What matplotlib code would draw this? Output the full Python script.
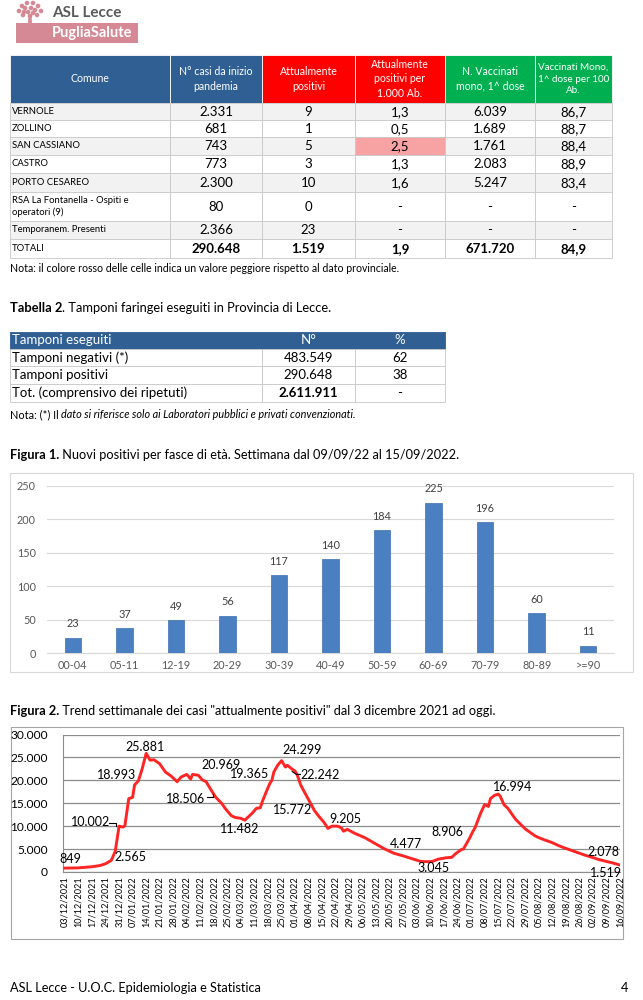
import matplotlib
matplotlib.use('Agg')
import matplotlib.pyplot as plt
import matplotlib.dates as mdates
from matplotlib.patches import Rectangle, Circle, Polygon
from matplotlib.ticker import FuncFormatter
import datetime as dt

FONT = ['Lato', 'DejaVu Sans']
plt.rcParams['font.family'] = FONT

# ---------------- DATA ----------------
t1_header = ["Comune", "N° casi da inizio\npandemia", "Attualmente\npositivi",
             "Attualmente\npositivi per\n1.000 Ab.", "N. Vaccinati\nmono, 1^ dose",
             "Vaccinati Mono,\n1^ dose per 100\nAb."]
t1_comuni = ["VERNOLE", "ZOLLINO", "SAN CASSIANO", "CASTRO", "PORTO CESAREO",
             "RSA La Fontanella - Ospiti e\noperatori (9)", "Temporanem. Presenti", "TOTALI"]
t1_casi = ["2.331", "681", "743", "773", "2.300", "80", "2.366", "290.648"]
t1_attuali = ["9", "1", "5", "3", "10", "0", "23", "1.519"]
t1_per1000 = ["1,3", "0,5", "2,5", "1,3", "1,6", "-", "-", "1,9"]
t1_vacc = ["6.039", "1.689", "1.761", "2.083", "5.247", "-", "-", "671.720"]
t1_vacc100 = ["86,7", "88,7", "88,4", "88,9", "83,4", "-", "-", "84,9"]

t2_header = ["Tamponi eseguiti", "N°", "%"]
t2_labels = ["Tamponi negativi (*)", "Tamponi positivi", "Tot. (comprensivo dei ripetuti)"]
t2_n = ["483.549", "290.648", "2.611.911"]
t2_pct = ["62", "38", "-"]

age_groups = ["00-04", "05-11", "12-19", "20-29", "30-39", "40-49", "50-59",
              "60-69", "70-79", "80-89", ">=90"]
new_positives = [23, 37, 49, 56, 117, 140, 184, 225, 196, 60, 11]

trend_dates = [
    "2021-12-03", "2021-12-10", "2021-12-17", "2021-12-21", "2021-12-24", "2021-12-26",
    "2021-12-27", "2021-12-29", "2021-12-31", "2022-01-02", "2022-01-03", "2022-01-05",
    "2022-01-07", "2022-01-08", "2022-01-10", "2022-01-12", "2022-01-14", "2022-01-16",
    "2022-01-18", "2022-01-21", "2022-01-24", "2022-01-27", "2022-01-30", "2022-02-01",
    "2022-02-04", "2022-02-06", "2022-02-07", "2022-02-10", "2022-02-12", "2022-02-14",
    "2022-02-17", "2022-02-19", "2022-02-22", "2022-02-24", "2022-02-27", "2022-03-01",
    "2022-03-04", "2022-03-06", "2022-03-08", "2022-03-10", "2022-03-12", "2022-03-14",
    "2022-03-15", "2022-03-17", "2022-03-19", "2022-03-20", "2022-03-21", "2022-03-23",
    "2022-03-25", "2022-03-27", "2022-03-28", "2022-03-30", "2022-04-01", "2022-04-02",
    "2022-04-04", "2022-04-06", "2022-04-08", "2022-04-11", "2022-04-13", "2022-04-16",
    "2022-04-18", "2022-04-20", "2022-04-23", "2022-04-25", "2022-04-26", "2022-04-28",
    "2022-05-02", "2022-05-07", "2022-05-12", "2022-05-17", "2022-05-22", "2022-05-27",
    "2022-05-30", "2022-06-05", "2022-06-09", "2022-06-11", "2022-06-14", "2022-06-18",
    "2022-06-21", "2022-06-23", "2022-06-26", "2022-06-27", "2022-06-30", "2022-07-02",
    "2022-07-03", "2022-07-06", "2022-07-08", "2022-07-10", "2022-07-11", "2022-07-13",
    "2022-07-15", "2022-07-16", "2022-07-18", "2022-07-20", "2022-07-24", "2022-07-29",
    "2022-08-03", "2022-08-05", "2022-08-08", "2022-08-12", "2022-08-15", "2022-08-18",
    "2022-08-22", "2022-08-26", "2022-08-29", "2022-09-02", "2022-09-05", "2022-09-09",
    "2022-09-12", "2022-09-16"]
trend_values = [
    849, 900, 1150, 1400, 1800, 2300,
    2565, 4500, 10002, 9800, 10100, 16000,
    16300, 18993, 19900, 22600, 25881, 24400,
    24500, 23600, 21800, 20900, 19700, 20700,
    21300, 20300, 21300, 21100, 20100, 19700,
    17600, 16300, 15000, 13800, 12300, 11900,
    11700, 11300, 12100, 12900, 13900, 14000,
    15300, 17400, 19365, 20000, 21800, 23300,
    24299, 22900, 23300, 22600, 22000, 21300,
    18900, 17300, 15772, 13400, 12300, 10800,
    9500, 10000, 10000, 9600, 8900, 9300,
    8400, 7500, 6300, 5100, 4100, 3500,
    3100, 2300, 2250, 2300, 2800, 3100,
    3200, 4000, 4900, 5000, 7200, 8906,
    9600, 12900, 14700, 14300, 16000, 16700,
    16994, 16600, 14700, 13900, 11500, 9400,
    7900, 7500, 7000, 6400, 5800, 5300,
    4700, 4100, 3650, 3150, 2720, 2300,
    2000, 1519]
trend_tick_start = "2021-12-03"
trend_tick_end = "2022-09-16"
trend_label_texts = ["849", "2.565", "10.002", "18.993", "25.881", "18.506", "20.969",
                     "19.365", "24.299", "22.242", "15.772", "11.482", "9.205", "4.477",
                     "3.045", "8.906", "16.994", "2.078", "1.519"]

# ---------------- LAYOUT ----------------
W, H = 643, 1000
fig = plt.figure(figsize=(W / 100, H / 100), dpi=100)
fig.patch.set_facecolor('white')
bg = fig.add_axes([0, 0, 1, 1])
bg.set_xlim(0, W)
bg.set_ylim(H, 0)
bg.axis('off')
bg.set_zorder(-1)


def px_axes(l, t, r, b):
    return fig.add_axes([l / W, 1 - b / H, (r - l) / W, (b - t) / H])


renderer = fig.canvas.get_renderer()


def mixed(x, y, parts, size, color='black'):
    for txt, weight, style in parts:
        t = bg.text(x, y, txt, fontsize=size, fontweight=weight, fontstyle=style,
                    color=color, va='center', ha='left')
        ext = t.get_window_extent(renderer=renderer)
        x += ext.width


# ---------- logo ----------
PINK = '#d48995'
crown = [(22, 6), (27, 3), (33, 3), (38, 6), (41, 11), (37, 15), (30, 16), (23, 15), (19, 11),
         (25, 8), (31, 8), (35, 10), (28, 12), (33, 13), (24, 12)]
for cx, cy in crown:
    bg.add_patch(Circle((cx, cy), 2.3, color=PINK, lw=0))
bg.add_patch(Polygon([(28.5, 14), (31.5, 14), (32, 24), (28, 24)], closed=True, color=PINK, lw=0))
bg.add_patch(Rectangle((16, 23), 122, 20, color=PINK, lw=0))
bg.text(52, 13, "ASL Lecce", fontsize=11, fontweight='bold', color='#5a5a5a', va='center')
bg.text(52, 33.5, "PugliaSalute", fontsize=10.5, fontweight='bold', color='white', va='center')

# ---------- table 1 ----------
BLUE = '#2f5f93'
RED = '#ff0000'
GREEN = '#00b050'
GRID = '#c8c8c8'
x_edges = [10, 170, 262, 355, 445, 535, 612]
head_top, head_bot = 55, 103
row_edges = [103, 120, 137, 155, 173, 192, 221, 239, 258]
head_colors = [BLUE, BLUE, RED, RED, GREEN, GREEN]
head_sizes = [7.6, 7.6, 7.6, 7.6, 7.6, 7.1]
for i in range(6):
    bg.add_patch(Rectangle((x_edges[i], head_top), x_edges[i + 1] - x_edges[i],
                           head_bot - head_top, facecolor=head_colors[i],
                           edgecolor='white', lw=0.6))
    bg.text((x_edges[i] + x_edges[i + 1]) / 2, (head_top + head_bot) / 2, t1_header[i],
            fontsize=head_sizes[i], color='white', ha='center', va='center', linespacing=1.35)
cols = [t1_casi, t1_attuali, t1_per1000, t1_vacc, t1_vacc100]
for r in range(len(t1_comuni)):
    y0, y1 = row_edges[r], row_edges[r + 1]
    fc = '#f2f2f2' if r % 2 == 0 else 'white'
    for i in range(6):
        c = fc
        if r == 2 and i == 3:
            c = '#f7a3a3'
        bg.add_patch(Rectangle((x_edges[i], y0), x_edges[i + 1] - x_edges[i], y1 - y0,
                               facecolor=c, edgecolor=GRID, lw=0.6))
    ym = (y0 + y1) / 2
    bg.text(x_edges[0] + 2, ym, t1_comuni[r], fontsize=6.8, ha='left', va='center',
            linespacing=1.45)
    bold = 'bold' if r == len(t1_comuni) - 1 else 'normal'
    for i, col in enumerate(cols):
        bg.text((x_edges[i + 1] + x_edges[i + 2]) / 2, ym + 0.5, col[r], fontsize=9.5,
                ha='center', va='center', fontweight=bold)
bg.text(10, 268, "Nota: il colore rosso delle celle indica un valore peggiore rispetto al dato provinciale.",
        fontsize=7.6, va='center')

# ---------- table 2 ----------
mixed(10, 308, [("Tabella 2", 'bold', 'normal'),
                (". Tamponi faringei eseguiti in Provincia di Lecce.", 'normal', 'normal')], 9.3)
x2 = [10, 262, 355, 445]
r2 = [332, 349, 366, 384, 402]
for i in range(3):
    bg.add_patch(Rectangle((x2[i], r2[0]), x2[i + 1] - x2[i], r2[1] - r2[0],
                           facecolor=BLUE, edgecolor=BLUE, lw=0.6))
bg.text(12, (r2[0] + r2[1]) / 2, t2_header[0], fontsize=9.5, color='white', va='center')
bg.text((x2[1] + x2[2]) / 2, (r2[0] + r2[1]) / 2, t2_header[1], fontsize=9.5, color='white',
        va='center', ha='center')
bg.text((x2[2] + x2[3]) / 2, (r2[0] + r2[1]) / 2, t2_header[2], fontsize=9.5, color='white',
        va='center', ha='center')
for r in range(3):
    y0, y1 = r2[r + 1], r2[r + 2]
    for i in range(3):
        bg.add_patch(Rectangle((x2[i], y0), x2[i + 1] - x2[i], y1 - y0,
                               facecolor='white', edgecolor=GRID, lw=0.6))
    ym = (y0 + y1) / 2
    bold = 'bold' if r == 2 else 'normal'
    bg.text(12, ym, t2_labels[r], fontsize=9.5, va='center')
    bg.text((x2[1] + x2[2]) / 2, ym, t2_n[r], fontsize=9.5, va='center', ha='center',
            fontweight=bold)
    bg.text((x2[2] + x2[3]) / 2, ym, t2_pct[r], fontsize=9.5, va='center', ha='center')
mixed(10, 415, [("Nota: (*) Il ", 'normal', 'normal'),
                ("dato si riferisce solo ai Laboratori pubblici e privati convenzionati.",
                 'normal', 'italic')], 7.8)

# ---------- figure 1 ----------
mixed(10, 455, [("Figura 1.", 'bold', 'normal'),
                (" Nuovi positivi per fasce di età. Settimana dal 09/09/22 al 15/09/2022.",
                 'normal', 'normal')], 9.2)
bg.add_patch(Rectangle((10, 473), 623, 199, facecolor='white', edgecolor='#d9d9d9', lw=0.8))
ax1 = px_axes(47, 486, 614, 653)
xs = list(range(len(age_groups)))
bars = ax1.bar(xs, new_positives, width=0.32, color='#4a7fc1', edgecolor='#3d6fae', lw=0.5,
               zorder=3)
for xi, v in zip(xs, new_positives):
    ax1.annotate(str(v), (xi, v), xytext=(0, 6), textcoords='offset points',
                 ha='center', va='bottom', fontsize=7.8, color='#404040')
ax1.set_xlim(-0.5, len(age_groups) - 0.5)
ax1.set_ylim(0, 250)
ax1.set_yticks([0, 50, 100, 150, 200, 250])
ax1.set_xticks(xs)
ax1.set_xticklabels(age_groups)
ax1.grid(axis='y', color='#d9d9d9', lw=0.8, zorder=0)
for s in ['top', 'right', 'left']:
    ax1.spines[s].set_visible(False)
ax1.spines['bottom'].set_color('#d9d9d9')
ax1.tick_params(length=0, labelsize=7.8, labelcolor='#595959')
ax1.tick_params(axis='x', pad=5)
ax1.tick_params(axis='y', pad=8)
ax1.set_facecolor('none')

# ---------- figure 2 ----------
mixed(10, 711, [("Figura 2.", 'bold', 'normal'),
                (' Trend settimanale dei casi "attualmente positivi" dal 3 dicembre 2021 ad oggi.',
                 'normal', 'normal')], 9.2)
bg.add_patch(Rectangle((11, 727), 612, 212, facecolor='white', edgecolor='#a6a6a6', lw=0.8))
ax2 = px_axes(63, 734.5, 620, 872)
d_num = [mdates.date2num(dt.datetime.strptime(d, "%Y-%m-%d")) for d in trend_dates]
ax2.plot(d_num, trend_values, color='#ff2525', lw=2.1, zorder=3, solid_joinstyle='round')
t_start = mdates.date2num(dt.datetime.strptime(trend_tick_start, "%Y-%m-%d"))
t_end = mdates.date2num(dt.datetime.strptime(trend_tick_end, "%Y-%m-%d"))
ax2.set_xlim(t_start - 1, t_end)
ax2.set_ylim(0, 30000)
ax2.set_yticks(range(0, 30001, 5000))
ax2.yaxis.set_major_formatter(FuncFormatter(lambda v, p: f"{int(v):,}".replace(',', '.')))
wk = [t_start + 7 * k for k in range(int((t_end - t_start) // 7) + 1)]
ax2.set_xticks(wk)
ax2.set_xticklabels([mdates.num2date(w).strftime("%d/%m/%Y") for w in wk], rotation=90)
ax2.grid(axis='y', color='#8c8c8c', lw=0.9, zorder=0)
for s in ['top', 'right']:
    ax2.spines[s].set_visible(False)
ax2.spines['left'].set_color('#8c8c8c')
ax2.spines['bottom'].set_color('#8c8c8c')
ax2.tick_params(axis='y', length=0, labelsize=8.6, pad=11)
ax2.tick_params(axis='x', length=0, labelsize=6.6, pad=3)
ax2.set_facecolor('none')

label_pos = [(2.6, 2830), (34.0, 3200), (13.5, 10800), (26.9, 21090), (41.2, 27240),
             (62.3, 16020), (80.5, 23260), (95.7, 21460), (122.4, 26520), (132.0, 21240),
             (117.9, 13630), (90.1, 9280), (144.8, 11520), (176.2, 6020), (190.5, 930),
             (197.6, 8760), (231.7, 18550), (278.4, 4280), (279.7, -280)]
for txt, (dd, vv) in zip(trend_label_texts, label_pos):
    ax2.text(t_start + dd, vv, txt, fontsize=9, ha='center', va='center', clip_on=False,
             zorder=4)
# leader lines
ax2.plot([t_start + 22.8, t_start + 26.3, t_start + 26.3], [10800, 10800, 10000],
         color='black', lw=0.8, zorder=4)
ax2.plot([t_start + 73.5, t_start + 76.5, t_start + 76.5], [16300, 16300, 17100],
         color='black', lw=0.8, zorder=4)
ax2.plot([t_start + 117.5, t_start + 119.7, t_start + 121.8], [21900, 21300, 21300],
         color='black', lw=0.8, zorder=4)

# ---------- footer ----------
bg.text(10, 988, "ASL Lecce - U.O.C. Epidemiologia e Statistica", fontsize=9.2, va='center')
bg.text(628, 988, "4", fontsize=9.2, va='center', ha='right')

fig.savefig('out.png', dpi=100)
